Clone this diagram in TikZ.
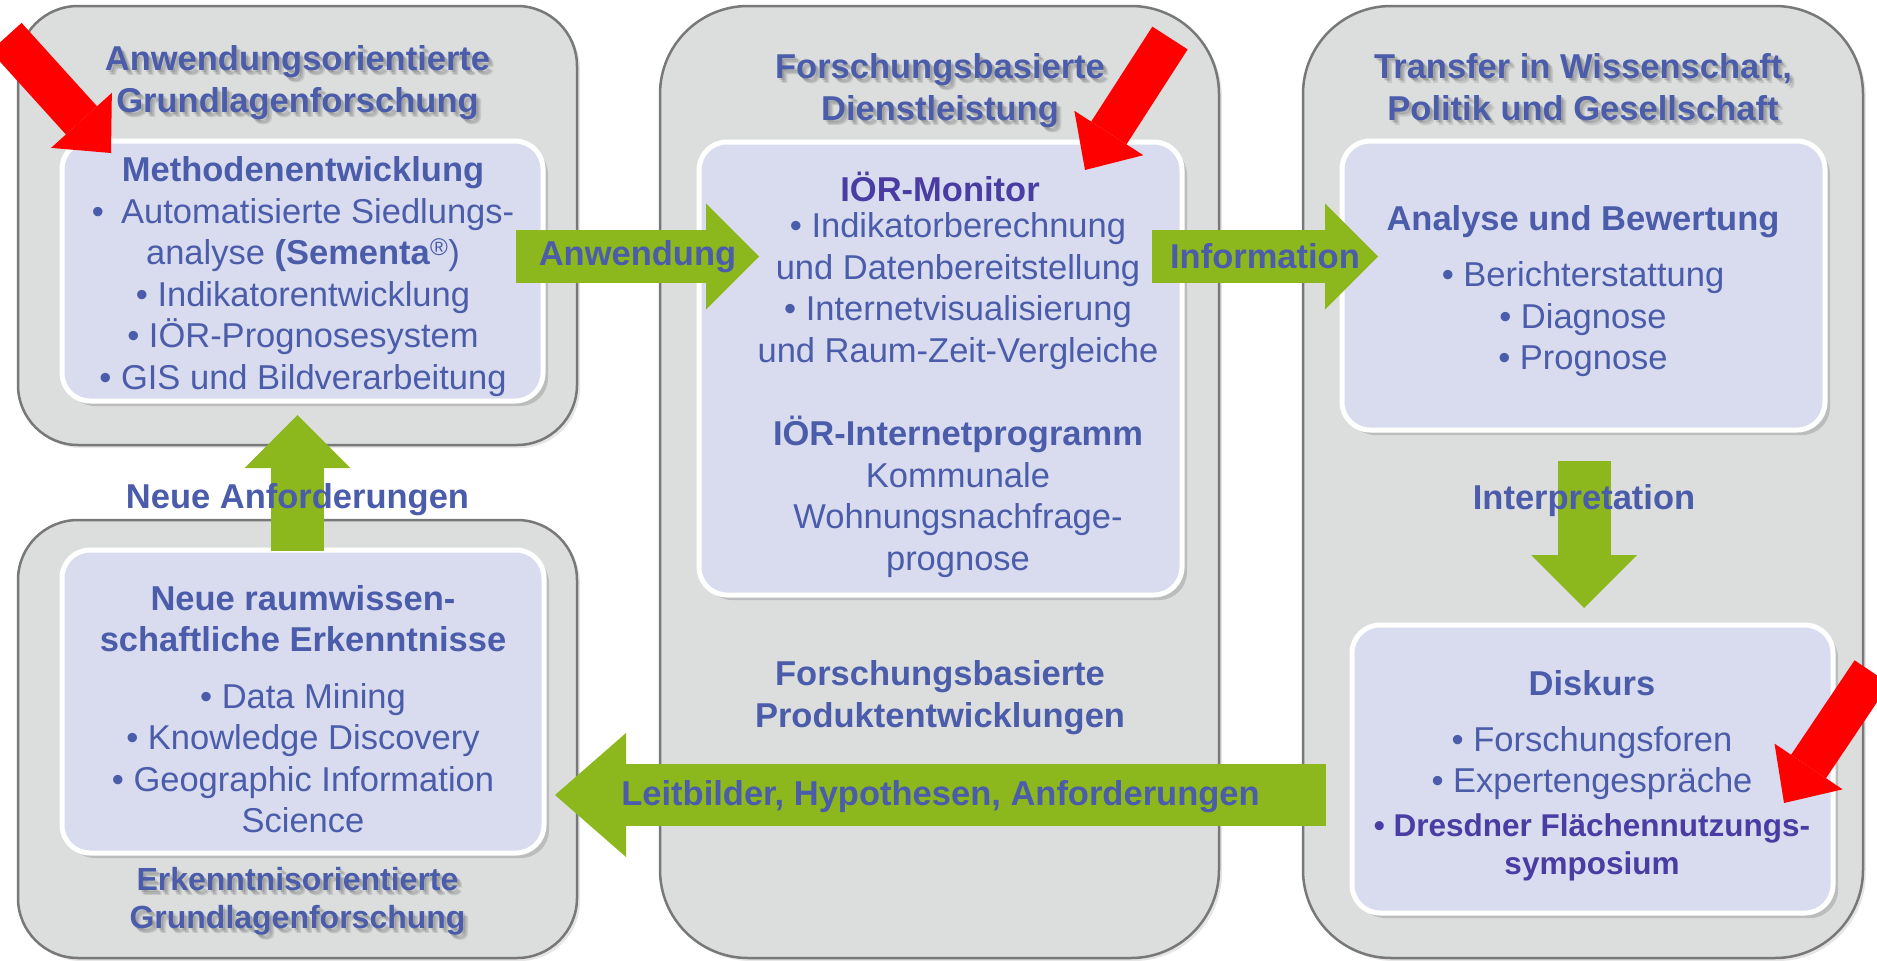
\documentclass[tikz,border=0pt]{standalone}
\usepackage{fontspec}
\setmainfont{Liberation Sans}
\usepackage{tikz}
\usetikzlibrary{arrows.meta}
\usetikzlibrary{shadows}
\usetikzlibrary{positioning}

\definecolor{boxgray}{RGB}{220,222,221}
\definecolor{boxline}{RGB}{120,120,120}
\definecolor{innerfill}{RGB}{217,220,238}
\definecolor{textblue}{RGB}{74,92,170}
\definecolor{monitorpurple}{RGB}{74,60,163}
\definecolor{arrowgreen}{RGB}{140,184,30}

\newcommand{\bodyfont}{\fontsize{34.5}{41.5}\selectfont}
\newcommand{\headfont}{\fontsize{34.5}{42}\selectfont\bfseries}
\newcommand{\smallheadfont}{\fontsize{31.5}{38}\selectfont\bfseries}

% title with a soft shadow behind it
\newcommand{\shadowtitle}[4][\headfont]{%
    \foreach \s in {2,3.5,5}
        \node[font=#1, text=black, text opacity=0.1, xshift=\s pt, yshift=-\s pt] (#2 shadow \s) at (#3) {#4};
    \node[font=#1] (#2) at (#3) {#4};
}

\begin{document}
\begin{tikzpicture}[
            x=1pt, y=-1pt,
            every node/.style={font=\bodyfont, text=textblue, align=center, inner sep=0pt},
            outer box/.style={rectangle, fill=boxgray, draw=boxline, line width=2.5pt, rounded corners=88pt,
                drop shadow={shadow xshift=3pt, shadow yshift=-3pt, opacity=0.2}},
            inner box/.style={rectangle, fill=innerfill, draw=white, line width=5pt, rounded corners=28pt,
                drop shadow={shadow xshift=5pt, shadow yshift=-5pt, opacity=0.35}},
            arrow label/.style={font=\headfont},
            green arrow/.style={draw=arrowgreen, line width=53pt, -{Triangle[length=53pt,width=106pt,line width=0pt]}},
            red arrow/.style={draw=red, line width=42pt, -{Triangle[length=44pt,width=82pt,line width=0pt]}}
        ]
        \useasboundingbox (0,0) rectangle (1877,961);
        \clip (0,0) rectangle (1877,961);

        % the four grey fields
        \node[outer box, minimum width=559pt, minimum height=439pt, rounded corners=60pt] (applied) at (297.5,225.5) {};
        \node[outer box, minimum width=559pt, minimum height=438pt, rounded corners=60pt] (basic) at (297.5,739) {};
        \node[outer box, minimum width=559pt, minimum height=952pt] (service) at (939.5,482) {};
        \node[outer box, minimum width=560pt, minimum height=952pt] (transfer) at (1583,482) {};

        % inner boxes
        \node[inner box, minimum width=481pt, minimum height=260pt] (methods box) at (302.5,271) {};
        \node[inner box, minimum width=482pt, minimum height=303pt] (insights box) at (303,701.5) {};
        \node[inner box, minimum width=483pt, minimum height=453pt] (monitor box) at (940.5,368.5) {};
        \node[inner box, minimum width=483pt, minimum height=289pt] (analysis box) at (1583.5,285.5) {};
        \node[inner box, minimum width=481pt, minimum height=288pt] (discourse box) at (1592.5,769) {};

        % titles
        \shadowtitle{applied title}{297.5,83}{Anwendungsorientierte\\Grundlagenforschung}
        \shadowtitle{service title}{940,91}{Forschungsbasierte\\Dienstleistung}
        \shadowtitle{transfer title}{1583,87}{Transfer in Wissenschaft,\\Politik und Gesellschaft}
        \shadowtitle[\fontsize{32}{38}\selectfont\bfseries]{basic title}{297.5,901.5}{Erkenntnisorientierte\\Grundlagenforschung}
        \node[font=\headfont] (product title) at (940,697.5) {Forschungsbasierte\\Produktentwicklungen};

        % box contents
        \node (methods) at (303,276.5) {\textbf{Methodenentwicklung}\\
            •\hspace{0.5em}Automatisierte Siedlungs-\\
            analyse \textbf{(Sementa}\textsuperscript{®})\\
            • Indikatorentwicklung\\
            • IÖR-Prognosesystem\\
            • GIS und Bildverarbeitung};
        \node (insights) at (303,709) {\textbf{Neue raumwissen-}\\
            \textbf{schaftliche Erkenntnisse}\\[15pt]
            • Data Mining\\
            • Knowledge Discovery\\
            • Geographic Information\\
            Science};
        \node[font=\headfont, text=monitorpurple] (monitor) at (940,186.5) {IÖR-Monitor};
        \node (monitor items) at (958,291) {• Indikatorberechnung\\
            und Datenbereitstellung\\
            • Internetvisualisierung\\
            und Raum-Zeit-Vergleiche};
        \node (program) at (958,497) {\textbf{IÖR-Internetprogramm}\\
            Kommunale\\
            Wohnungsnachfrage-\\
            prognose};
        \node[font=\headfont] (analysis) at (1583,221.5) {Analyse und Bewertung};
        \node (analysis items) at (1583,319.5) {• Berichterstattung\\
            • Diagnose\\
            • Prognose};
        \node[font=\headfont] (discourse) at (1592,683) {Diskurs};
        \node (discourse items) at (1592,804) {• Forschungsforen\\
            • Expertengespräche\\[2pt]
            \textcolor{monitorpurple}{\smallheadfont • Dresdner Flächennutzungs-}\\[-3pt]
            \textcolor{monitorpurple}{\smallheadfont symposium}};

        % green flow arrows
        \coordinate (use start) at (516,256.5);
        \coordinate (use end) at (759,256.5);
        \draw[green arrow] (use start) -- node[arrow label] (use label) {Anwendung} (use end);

        \coordinate (info start) at (1152,256.5);
        \coordinate (info end) at (1378,256.5);
        \draw[green arrow] (info start) -- node[arrow label] (info label) {Information} (info end);

        \coordinate (demand start) at (297.5,551);
        \coordinate (demand end) at (297.5,415);
        \draw[green arrow] (demand start) -- node[arrow label, pos=0.375] (demand label) {Neue Anforderungen} (demand end);

        \coordinate (interp start) at (1584,461);
        \coordinate (interp end) at (1584,608);
        \draw[green arrow] (interp start) -- node[arrow label, pos=0.27] (interp label) {Interpretation} (interp end);

        \coordinate (guide start) at (1326,795);
        \coordinate (guide end) at (555,795);
        \draw[green arrow, line width=62pt, -{Triangle[length=71pt,width=124pt,line width=0pt]}]
            (guide start) -- node[arrow label, yshift=-2pt] (guide label) {Leitbilder, Hypothesen, Anforderungen} (guide end);

        % red markers
        \coordinate (mark a tail) at (6,37);
        \coordinate (mark a tip) at (111,153);
        \coordinate (mark b tail) at (1170,38);
        \coordinate (mark b tip) at (1085,170);
        \coordinate (mark c tail) at (1872,672);
        \coordinate (mark c tip) at (1784,803);
        \draw[red arrow] (mark a tail) -- (mark a tip);
        \draw[red arrow] (mark b tail) -- (mark b tip);
        \draw[red arrow] (mark c tail) -- (mark c tip);
    \end{tikzpicture}
\end{document}
